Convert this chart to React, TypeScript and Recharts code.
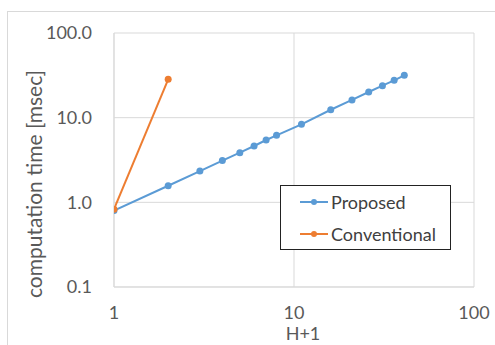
import { CartesianGrid, Legend, Line, LineChart, XAxis, YAxis } from "recharts";

const proposedX = [1, 2, 3, 4, 5, 6, 7, 8, 11, 16, 21, 26, 31, 36, 41];
const proposedY = [0.8, 1.57, 2.34, 3.11, 3.86, 4.63, 5.45, 6.19, 8.35, 12.4, 16.2, 20.1, 23.9, 27.6, 31.6];
const conventionalX = [1, 2];
const conventionalY = [0.83, 28.4];

const xTicks = [1, 10, 100];
const yTicks = [0.1, 1, 10, 100];

const series = [
    { name: "Proposed", color: "#5B9BD5", xs: proposedX, ys: proposedY },
    { name: "Conventional", color: "#ED7D31", xs: conventionalX, ys: conventionalY },
];

const FONT = "Lato, 'Open Sans', sans-serif";

function LegendBox() {
    return (
        <div
            style={{
                border: "1px solid #222",
                background: "#fff",
                width: 169,
                height: 63,
                boxSizing: "content-box",
                fontFamily: FONT,
                fontSize: 18,
                color: "#404040",
            }}
        >
            {series.map((s, i) => (
                <div
                    key={s.name}
                    style={{
                        position: "absolute",
                        left: 20,
                        top: 6 + i * 32,
                        display: "flex",
                        alignItems: "center",
                        height: 22,
                    }}
                >
                    <svg width={28} height={10} style={{ marginRight: 3 }}>
                        <line x1={0} y1={5} x2={28} y2={5} stroke={s.color} strokeWidth={2} />
                        <circle cx={14} cy={5} r={3} fill={s.color} />
                    </svg>
                    <span>{s.name}</span>
                </div>
            ))}
        </div>
    );
}

export default function App() {
    return (
        <div
            style={{
                position: "absolute",
                left: 0,
                top: 0,
                width: 495,
                height: 345,
                background: "#fff",
                overflow: "hidden",
            }}
        >
            <div
                style={{
                    position: "absolute",
                    left: 7,
                    top: 11,
                    width: 600,
                    height: 600,
                    borderLeft: "1px solid #d9d9d9",
                    borderTop: "1px solid #d9d9d9",
                }}
            />
            <LineChart
                width={495}
                height={345}
                margin={{ top: 33, right: 21, left: 0, bottom: 8 }}
                style={{ position: "absolute", left: 0, top: 0 }}
            >
                <CartesianGrid stroke="#d9d9d9" strokeWidth={1} />
                <XAxis
                    dataKey="x"
                    type="number"
                    scale="log"
                    domain={[1, 100]}
                    ticks={xTicks}
                    allowDataOverflow
                    height={50}
                    axisLine={{ stroke: "#d9d9d9" }}
                    tickLine={false}
                    tickSize={0}
                    tickMargin={19}
                    tick={{ fill: "#595959", fontSize: 18, fontFamily: FONT }}
                    label={{
                        value: "H+1",
                        position: "insideBottom",
                        offset: -3,
                        dx: 9,
                        fill: "#595959",
                        fontSize: 18,
                        fontFamily: FONT,
                    }}
                />
                <YAxis
                    type="number"
                    scale="log"
                    domain={[0.1, 100]}
                    ticks={yTicks}
                    allowDataOverflow
                    width={114}
                    axisLine={{ stroke: "#d9d9d9" }}
                    tickLine={false}
                    tickSize={0}
                    tickMargin={22}
                    tickFormatter={(v: number) => v.toFixed(1)}
                    tick={{ fill: "#595959", fontSize: 18, fontFamily: FONT }}
                    label={{
                        value: "computation time [msec]",
                        angle: -90,
                        position: "insideLeft",
                        offset: 0,
                        dx: 35,
                        dy: 24,
                        textAnchor: "middle",
                        fill: "#595959",
                        fontSize: 21,
                        fontFamily: FONT,
                    }}
                />
                {series.map((s) => (
                    <Line
                        key={s.name}
                        name={s.name}
                        data={s.xs.map((x, i) => ({ x, y: s.ys[i] }))}
                        dataKey="y"
                        stroke={s.color}
                        strokeWidth={2}
                        dot={{ r: 3.5, fill: s.color, stroke: s.color, strokeWidth: 0 }}
                        isAnimationActive={false}
                    />
                ))}
                <Legend
                    layout="vertical"
                    align="center"
                    verticalAlign="middle"
                    content={() => <LegendBox />}
                    wrapperStyle={{ left: 280, top: 185, width: 171, height: 65 }}
                />
            </LineChart>
        </div>
    );
}
